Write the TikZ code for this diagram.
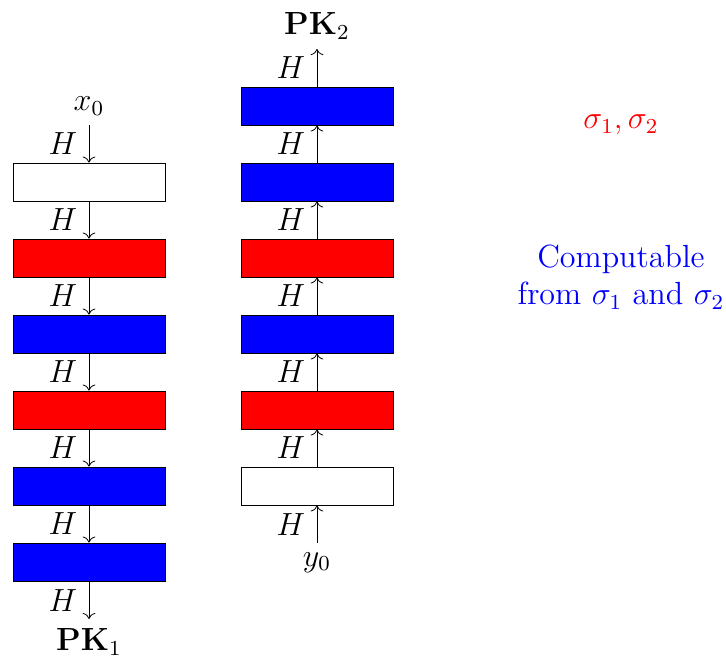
\documentclass[tikz,border=0pt]{standalone}
\usepackage{amsmath,amssymb}
\usepackage{xcolor}
\usepackage{tikz}
\usetikzlibrary{arrows.meta,positioning,calc}

\begin{document}
\begin{tikzpicture}[
    font=\large,
    line width=0.3pt,
    hashbox/.style={rectangle, draw, minimum width=2cm, minimum height=0.5cm, inner sep=0pt},
    arrow/.style={->},
]
    \useasboundingbox (-1.171,-6.289) rectangle (8.382,2.395);

    % left chain, going down
    \node[above] (x0) at (0,0.75) {$x_0$};
    \node[hashbox, fill=white] (l1) at (0,0) {};
    \node[hashbox, fill=red] (l2) at (0,-1) {};
    \node[hashbox, fill=blue] (l3) at (0,-2) {};
    \node[hashbox, fill=red] (l4) at (0,-3) {};
    \node[hashbox, fill=blue] (l5) at (0,-4) {};
    \node[hashbox, fill=blue] (l6) at (0,-5) {};
    \node[below] (pk1) at (0,-5.75) {$\mathbf{PK}_1$};

    \draw[arrow] (x0) -- node[left=1pt] {$H$} (l1);
    \draw[arrow] (l1) -- node[left=1pt] {$H$} (l2);
    \draw[arrow] (l2) -- node[left=1pt] {$H$} (l3);
    \draw[arrow] (l3) -- node[left=1pt] {$H$} (l4);
    \draw[arrow] (l4) -- node[left=1pt] {$H$} (l5);
    \draw[arrow] (l5) -- node[left=1pt] {$H$} (l6);
    \draw[arrow] (l6) -- node[left=1pt] {$H$} (pk1);

    % right chain, going up
    \node[below] (y0) at (3,-4.75) {$y_0$};
    \node[hashbox, fill=white] (r1) at (3,-4) {};
    \node[hashbox, fill=red] (r2) at (3,-3) {};
    \node[hashbox, fill=blue] (r3) at (3,-2) {};
    \node[hashbox, fill=red] (r4) at (3,-1) {};
    \node[hashbox, fill=blue] (r5) at (3,0) {};
    \node[hashbox, fill=blue] (r6) at (3,1) {};
    \node[above] (pk2) at (3,1.75) {$\mathbf{PK}_2$};

    \draw[arrow] (y0) -- node[left=1pt] {$H$} (r1);
    \draw[arrow] (r1) -- node[left=1pt] {$H$} (r2);
    \draw[arrow] (r2) -- node[left=1pt] {$H$} (r3);
    \draw[arrow] (r3) -- node[left=1pt] {$H$} (r4);
    \draw[arrow] (r4) -- node[left=1pt] {$H$} (r5);
    \draw[arrow] (r5) -- node[left=1pt] {$H$} (r6);
    \draw[arrow] (r6) -- node[left=1pt] {$H$} (pk2);

    % legend
    \node[text=red] (sigmas) at (7,0.75) {$\sigma_1, \sigma_2$};
    \node[text=blue, align=center] (computable) at (7,-1.25) {Computable\\from $\sigma_1$ and $\sigma_2$};
\end{tikzpicture}
\end{document}
